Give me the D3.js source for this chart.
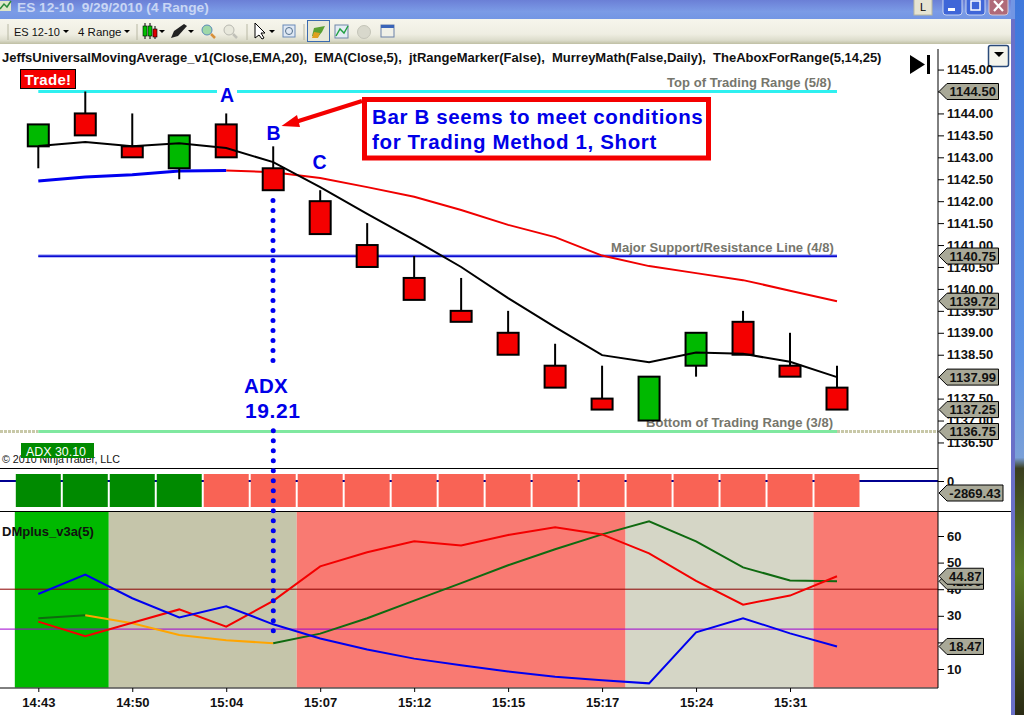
<!DOCTYPE html>
<html>
<head>
<meta charset="utf-8">
<script src="https://cdn.jsdelivr.net/npm/d3@7"></script>
<style>
 html, body { margin: 0; padding: 0; background: #fff; overflow: hidden; }
 svg { display: block; font-family: "Liberation Sans", Arial, sans-serif; }
 .tick text { font-weight: bold; font-size: 13px; fill: #111; }
 .tick line { stroke: #000; }
</style>
</head>
<body>
<div id="chart"></div>
<script>
// candles
var opens  = [1143.25, 1144, 1143.25, 1142.75, 1143.75, 1142.75, 1142, 1141, 1140.25, 1139.5, 1139, 1138.25, 1137.5, 1137, 1138.25, 1139.25, 1138.25, 1137.75];
var closes = [1143.75, 1143.5, 1143, 1143.5, 1143, 1142.25, 1141.25, 1140.5, 1139.75, 1139.25, 1138.5, 1137.75, 1137.25, 1138, 1139, 1138.5, 1138, 1137.25];
var highs  = [1143.75, 1144.5, 1144, 1143.5, 1144, 1143.25, 1142.25, 1141.5, 1140.75, 1140.25, 1139.5, 1138.75, 1138.25, 1138, 1139, 1139.5, 1139, 1138.25];
var lows   = [1142.75, 1143.5, 1143, 1142.5, 1143, 1142.25, 1141.25, 1140.5, 1139.75, 1139.25, 1138.5, 1137.75, 1137.25, 1137, 1138, 1138.5, 1138, 1137.25];

// moving averages
var emaFast = [1143.26, 1143.35, 1143.25, 1143.32, 1143.21, 1142.89, 1142.32, 1141.71, 1141.12, 1140.5, 1139.79, 1139.13, 1138.49, 1138.33, 1138.55, 1138.52, 1138.34, 1137.99];
var universalMa = [1142.46, 1142.55, 1142.6, 1142.69, 1142.7, 1142.66, 1142.53, 1142.32, 1142.1, 1141.8, 1141.46, 1141.18, 1140.76, 1140.52, 1140.36, 1140.2, 1139.96, 1139.72];

// DMplus panel
var diMinus = [27.8, 22.3, 27.4, 32.4, 25.9, 35.6, 48.6, 53.9, 58, 56.4, 60.4, 63.3, 60.6, 53.5, 43.1, 34.2, 37.6, 44.87];
var diPlus  = [38.2, 45.5, 36.6, 29.4, 33.6, 26.8, 21.5, 17.3, 13.9, 11.4, 9.1, 7.1, 5.8, 4.6, 23.8, 29.1, 23.4, 18.47];
var adxLine = [29.1, 30.2, 27.2, 22.8, 20.8, 19.7, 23.3, 29.1, 35.7, 42.3, 49, 55, 60.6, 65.5, 58, 48.2, 43.3, 42.96];

// shading of the DMplus panel, in bar numbers
var bandFrom = [-0.5, 1.5, 5.5, 12.5, 16.5];
var bandTo = [1.5, 5.5, 12.5, 16.5, 20];
var bandColors = ["#00b900", "#c5c5aa", "#f97a72", "#d5d6c6", "#f97a72"];

// middle panel blocks
var blockColors = ["#008a00", "#008a00", "#008a00", "#008a00", "#f96355", "#f96355", "#f96355", "#f96355", "#f96355", "#f96355", "#f96355", "#f96355", "#f96355", "#f96355", "#f96355", "#f96355", "#f96355", "#f96355"];

// axes
var timeLabels = ["14:43", "14:50", "15:04", "15:07", "15:12", "15:15", "15:17", "15:24", "15:31"];
var timeBars = [0, 2, 4, 6, 8, 10, 12, 14, 16];
var priceTicks = [1145, 1144.5, 1144, 1143.5, 1143, 1142.5, 1142, 1141.5, 1141, 1140.5, 1140, 1139.5, 1139, 1138.5, 1138, 1137.5, 1137, 1136.5];
var dmTicks = [10, 20, 30, 40, 50, 60];
var priceTags = [1144.5, 1140.75, 1139.72, 1137.99, 1137.25, 1136.75];
var dmTags = [42.96, 18.47, 44.87];

var width = 1024, height = 715;
var axisX = 938;

var svg = d3.select("#chart").append("svg").attr("width", width).attr("height", height);

var x = d3.scaleLinear().domain([0, 17]).range([38.3, 837]);
var yPrice = d3.scaleLinear().domain([1144.5, 1136.75]).range([91.5, 431.5]);
var yDm = d3.scaleLinear().domain([10, 60]).range([669, 536]);
var yMid = d3.scaleLinear().domain([0, -2869.43]).range([481, 493]);

var bars = d3.range(opens.length);

// Window chrome.
var defs = svg.append("defs");
var g1 = defs.append("linearGradient").attr("id", "titleGrad").attr("x1", 0).attr("x2", 0).attr("y1", 0).attr("y2", 1);
g1.append("stop").attr("offset", "0").attr("stop-color", "#6b7fd6");
g1.append("stop").attr("offset", "0.6").attr("stop-color", "#7b9be6");
g1.append("stop").attr("offset", "1").attr("stop-color", "#7396e4");
var g2 = defs.append("linearGradient").attr("id", "toolGrad").attr("x1", 0).attr("x2", 0).attr("y1", 0).attr("y2", 1);
g2.append("stop").attr("offset", "0").attr("stop-color", "#f6f5ec");
g2.append("stop").attr("offset", "0.6").attr("stop-color", "#efeee2");
g2.append("stop").attr("offset", "0.85").attr("stop-color", "#dcdccb");
g2.append("stop").attr("offset", "1").attr("stop-color", "#bfbfa4");
var g3 = defs.append("linearGradient").attr("id", "deskGrad").attr("x1", 0).attr("x2", 0).attr("y1", 0).attr("y2", 1);
g3.append("stop").attr("offset", "0").attr("stop-color", "#3f78dc");
g3.append("stop").attr("offset", "0.5").attr("stop-color", "#5d93e4");
g3.append("stop").attr("offset", "0.64").attr("stop-color", "#7aa0d8");
g3.append("stop").attr("offset", "0.655").attr("stop-color", "#3b3f20");
g3.append("stop").attr("offset", "0.8").attr("stop-color", "#5b7d25");
g3.append("stop").attr("offset", "0.87").attr("stop-color", "#4a5a20");
g3.append("stop").attr("offset", "1").attr("stop-color", "#2a2a14");

svg.append("rect").attr("x", 1015).attr("y", 0).attr("width", 9).attr("height", height).attr("fill", "url(#deskGrad)");
svg.append("rect").attr("x", 1011).attr("y", 0).attr("width", 4).attr("height", height).attr("fill", "#6a70c8");
svg.append("rect").attr("width", 1011).attr("height", 19).attr("fill", "url(#titleGrad)");
svg.append("rect").attr("x", 1011).attr("width", 4).attr("height", 19).attr("fill", "#7396e4");
svg.append("rect").attr("y", 19).attr("width", 1011).attr("height", 25).attr("fill", "url(#toolGrad)");

svg.append("text").attr("x", 17).attr("y", 12).attr("font-size", 13.7).attr("font-weight", "bold")
 .attr("fill", "#c9d6f4").attr("xml:space", "preserve").text("ES 12-10  9/29/2010 (4 Range)");

// Little chart icon in the title bar.
svg.append("rect").attr("x", 0).attr("y", 1).attr("width", 11).attr("height", 10).attr("fill", "#dfe6c8");
svg.append("path").attr("d", "M0,9L4,4L7,7L11,1").attr("fill", "none").attr("stroke", "#2a8a3a").attr("stroke-width", 1.5);

// Window buttons.
svg.append("rect").attr("x", 914).attr("y", -2).attr("width", 18).attr("height", 17).attr("fill", "#e6e4d2").attr("stroke", "#b8b8a0");
svg.append("text").attr("x", 923).attr("y", 11).attr("text-anchor", "middle").attr("font-size", 11).text("L");
svg.append("rect").attr("x", 943).attr("y", -3).attr("width", 19).attr("height", 18).attr("rx", 3).attr("fill", "#3f66d8").attr("stroke", "#c8d4f0");
svg.append("rect").attr("x", 948).attr("y", 8).attr("width", 7).attr("height", 3).attr("fill", "#fff");
svg.append("rect").attr("x", 966).attr("y", -3).attr("width", 19).attr("height", 18).attr("rx", 3).attr("fill", "#3f66d8").attr("stroke", "#c8d4f0");
svg.append("rect").attr("x", 971).attr("y", 1).attr("width", 9).attr("height", 9).attr("fill", "none").attr("stroke", "#fff").attr("stroke-width", 1.5);
svg.append("rect").attr("x", 989).attr("y", -3).attr("width", 19).attr("height", 18).attr("rx", 3).attr("fill", "#b06a78").attr("stroke", "#d8c8d0");
svg.append("path").attr("d", "M994,1L1003,11M1003,1L994,11").attr("stroke", "#fff").attr("stroke-width", 2.2);

// Toolbar.
function toolText(tx, label, size) {
 svg.append("text").attr("x", tx).attr("y", 36).attr("font-size", size).attr("fill", "#111").text(label);
}
function dropArrow(ax) {
 svg.append("path").attr("d", "M" + ax + ",30h6l-3,3z").attr("fill", "#000");
}
function toolSep(sx) {
 svg.append("line").attr("x1", sx).attr("x2", sx).attr("y1", 24).attr("y2", 40).attr("stroke", "#b8b8a4");
}
toolSep(8); toolSep(137); toolSep(247); toolSep(304);
toolText(14, "ES 12-10", 11);
dropArrow(63);
toolText(78, "4 Range", 11.5);
dropArrow(124);
[145, 150].forEach(function(cx) {
 svg.append("line").attr("x1", cx).attr("x2", cx).attr("y1", 23).attr("y2", 39).attr("stroke", "#000");
 svg.append("rect").attr("x", cx - 2).attr("y", 26).attr("width", 4).attr("height", 10).attr("fill", "#00c000").attr("stroke", "#000").attr("stroke-width", 0.6);
});
svg.append("line").attr("x1", 155).attr("x2", 155).attr("y1", 26).attr("y2", 39).attr("stroke", "#000");
svg.append("rect").attr("x", 153).attr("y", 29).attr("width", 4).attr("height", 8).attr("fill", "#e00000").attr("stroke", "#000").attr("stroke-width", 0.6);
dropArrow(159);
svg.append("path").attr("d", "M171,38L174,31L184,24L187,26L178,36Z").attr("fill", "#222");
dropArrow(188);
svg.append("circle").attr("cx", 207).attr("cy", 30).attr("r", 5).attr("fill", "#9fd8a8").attr("stroke", "#5a8ab8");
svg.append("line").attr("x1", 211).attr("x2", 215).attr("y1", 34).attr("y2", 38).attr("stroke", "#d8903a").attr("stroke-width", 2.5);
svg.append("circle").attr("cx", 229).attr("cy", 30).attr("r", 5).attr("fill", "#e8e8dc").attr("stroke", "#b8b8b0");
svg.append("line").attr("x1", 233).attr("x2", 237).attr("y1", 34).attr("y2", 38).attr("stroke", "#c0c0b8").attr("stroke-width", 2.5);
svg.append("path").attr("d", "M255,23V38L259,35L262,39L264,38L261,33L265,33Z").attr("fill", "#fff").attr("stroke", "#000");
dropArrow(269);
svg.append("rect").attr("x", 283).attr("y", 25).attr("width", 12).attr("height", 12).attr("fill", "#dfe8f4").attr("stroke", "#6a8ab8");
svg.append("circle").attr("cx", 289).attr("cy", 31).attr("r", 3.5).attr("fill", "none").attr("stroke", "#54708c");
svg.append("rect").attr("x", 307.5).attr("y", 20.5).attr("width", 22).attr("height", 21).attr("fill", "#e8e8d8").attr("stroke", "#3a6ab0");
svg.append("path").attr("d", "M312,36L314,28L325,26L322,32L318,37Z").attr("fill", "#5aa032");
svg.append("path").attr("d", "M312,38L314,32L320,33L318,38Z").attr("fill", "#e0a020");
svg.append("rect").attr("x", 335).attr("y", 25).attr("width", 13).attr("height", 13).attr("fill", "#e4ecf4").attr("stroke", "#7088a8");
svg.append("path").attr("d", "M336,36L340,29L344,33L348,26").attr("fill", "none").attr("stroke", "#20a040").attr("stroke-width", 1.4);
svg.append("circle").attr("cx", 364).attr("cy", 32).attr("r", 6.5).attr("fill", "#d8d8cc").attr("stroke", "#c4c4b8");
svg.append("rect").attr("x", 381).attr("y", 25).attr("width", 13).attr("height", 12).attr("fill", "#f0f0e8").attr("stroke", "#6a80a8");
svg.append("rect").attr("x", 381).attr("y", 25).attr("width", 13).attr("height", 3).attr("fill", "#3a64b8");

// Chart overlay text at the top.
svg.append("text").attr("x", 2).attr("y", 62).attr("font-size", 13).attr("font-weight", "bold").attr("fill", "#111").attr("xml:space", "preserve")
 .text("JeffsUniversalMovingAverage_v1(Close,EMA,20),  EMA(Close,5),  jtRangeMarker(False),  MurreyMath(False,Daily),  TheAboxForRange(5,14,25)");

svg.append("path").attr("d", "M910,55V74L925,64.5Z").attr("fill", "#000");
svg.append("rect").attr("x", 927).attr("y", 55).attr("width", 3).attr("height", 19).attr("fill", "#000");
svg.append("rect").attr("x", 988.5).attr("y", 45.5).attr("width", 20).attr("height", 21).attr("rx", 2).attr("fill", "#f4f4ec").attr("stroke", "#2a4a7a").attr("stroke-width", 1.5);
svg.append("path").attr("d", "M994,52h10l-5,5z").attr("fill", "#000");

// DMplus background shading.
svg.selectAll(".band").data(bandColors).enter().append("rect").attr("class", "band")
 .attr("x", function(d, i) { return x(bandFrom[i]); })
 .attr("y", 512)
 .attr("width", function(d, i) { return Math.min(x(bandTo[i]), axisX) - x(bandFrom[i]); })
 .attr("height", 175.5)
 .attr("fill", function(d) { return d; });

// Murrey levels.
svg.append("rect").attr("x", x(0)).attr("y", yPrice(1144.5) - 1.5).attr("width", x(17) - x(0)).attr("height", 3).attr("fill", "#2ff0f0");
svg.append("rect").attr("x", x(0)).attr("y", yPrice(1140.75) - 1.5).attr("width", x(17) - x(0)).attr("height", 3).attr("fill", "#7a80f0");
svg.append("rect").attr("x", x(0)).attr("y", yPrice(1140.75) - 0.5).attr("width", x(17) - x(0)).attr("height", 1.4).attr("fill", "#0000d0");
svg.append("line").attr("x1", 0).attr("x2", x(0)).attr("y1", yPrice(1136.75)).attr("y2", yPrice(1136.75)).attr("stroke", "#c8c8a8").attr("stroke-width", 3).attr("stroke-dasharray", "3 1");
svg.append("line").attr("x1", x(17)).attr("x2", axisX).attr("y1", yPrice(1136.75)).attr("y2", yPrice(1136.75)).attr("stroke", "#c8c8a8").attr("stroke-width", 3).attr("stroke-dasharray", "3 1");
svg.append("rect").attr("x", x(0)).attr("y", yPrice(1136.75) - 1.5).attr("width", x(17) - x(0)).attr("height", 3).attr("fill", "#80e8a0");

function levelText(tx, ty, label) {
 svg.append("text").attr("x", tx).attr("y", ty).attr("font-size", 13).attr("font-weight", "bold")
  .attr("letter-spacing", 0.05).attr("fill", "#76766c").text(label);
}
levelText(667, 87, "Top of Trading Range (5/8)");
levelText(611, 252, "Major Support/Resistance Line (4/8)");
levelText(646, 427, "Bottom of Trading Range (3/8)");

// Moving averages behind the candles.
var priceLine = d3.line().x(function(d) { return x(d); });

svg.append("path").datum(bars.slice(0, 5))
 .attr("d", priceLine.y(function(d) { return yPrice(universalMa[d]); }))
 .attr("fill", "none").attr("stroke", "#0000f0").attr("stroke-width", 3);
svg.append("path").datum(bars.slice(4))
 .attr("d", priceLine.y(function(d) { return yPrice(universalMa[d]); }))
 .attr("fill", "none").attr("stroke", "#f00000").attr("stroke-width", 2);

// Candles.
var candles = svg.selectAll(".candle").data(bars).enter().append("g").attr("class", "candle");
candles.append("line")
 .attr("x1", function(d) { return x(d); })
 .attr("x2", function(d) { return x(d); })
 .attr("y1", function(d) { return yPrice(highs[d]); })
 .attr("y2", function(d) { return yPrice(lows[d]); })
 .attr("stroke", "#000").attr("stroke-width", 2);
candles.append("rect")
 .attr("x", function(d) { return x(d) - 10.5; })
 .attr("y", function(d) { return yPrice(Math.max(opens[d], closes[d])); })
 .attr("width", 21)
 .attr("height", function(d) { return Math.abs(yPrice(opens[d]) - yPrice(closes[d])); })
 .attr("fill", function(d) { return closes[d] > opens[d] ? "#00b900" : "#f40000"; })
 .attr("stroke", "#000").attr("stroke-width", 2);

svg.append("path").datum(bars)
 .attr("d", priceLine.y(function(d) { return yPrice(emaFast[d]); }))
 .attr("fill", "none").attr("stroke", "#000").attr("stroke-width", 2);

// Panel separators and the zero line of the middle panel.
svg.append("line").attr("x1", 0).attr("x2", axisX).attr("y1", 468.5).attr("y2", 468.5).attr("stroke", "#000");
svg.append("line").attr("x1", 0).attr("x2", 1011).attr("y1", 511.5).attr("y2", 511.5).attr("stroke", "#000");
svg.append("line").attr("x1", 0).attr("x2", axisX).attr("y1", yMid(0)).attr("y2", yMid(0)).attr("stroke", "#000090").attr("stroke-width", 2);

svg.selectAll(".block").data(blockColors).enter().append("rect").attr("class", "block")
 .attr("x", function(d, i) { return x(i) - 22.5; })
 .attr("y", 474)
 .attr("width", 45)
 .attr("height", 33)
 .attr("fill", function(d) { return d; });

// DMplus reference lines.
svg.append("line").attr("x1", 0).attr("x2", axisX).attr("y1", yDm(40)).attr("y2", yDm(40)).attr("stroke", "#8b0000");
svg.append("line").attr("x1", 0).attr("x2", axisX).attr("y1", yDm(25)).attr("y2", yDm(25)).attr("stroke", "#a000d0");

// DMplus lines.
var dmLine = d3.line().x(function(d) { return x(d); });

function drawDm(values, from, to, color) {
 svg.append("path").datum(bars.slice(from, to + 1))
  .attr("d", dmLine.y(function(d) { return yDm(values[d]); }))
  .attr("fill", "none").attr("stroke", color).attr("stroke-width", 2);
}
drawDm(adxLine, 0, 1, "#0f6a10");
drawDm(adxLine, 1, 5, "#ffa500");
drawDm(adxLine, 5, 17, "#0f6a10");
drawDm(diMinus, 0, 17, "#f40000");
drawDm(diPlus, 0, 17, "#0000f0");

svg.append("text").attr("x", 2).attr("y", 536).attr("font-size", 13).attr("font-weight", "bold").attr("fill", "#111").text("DMplus_v3a(5)");

// Axes.
svg.append("line").attr("x1", axisX).attr("x2", axisX).attr("y1", 49).attr("y2", 688).attr("stroke", "#000").attr("stroke-width", 1);
svg.append("line").attr("x1", 0).attr("x2", axisX).attr("y1", 688).attr("y2", 688).attr("stroke", "#000").attr("stroke-width", 1);

var priceAxis = d3.axisRight(yPrice).tickValues(priceTicks).tickSize(6).tickPadding(3).tickFormat(d3.format(".2f"));
svg.append("g").attr("transform", "translate(" + axisX + ",0)").call(priceAxis).call(function(g) { g.select(".domain").remove(); });

var midAxis = d3.axisRight(yMid).tickValues([0]).tickSize(6).tickPadding(3);
svg.append("g").attr("transform", "translate(" + axisX + ",0)").call(midAxis).call(function(g) { g.select(".domain").remove(); });

var dmAxis = d3.axisRight(yDm).tickValues(dmTicks).tickSize(6).tickPadding(3);
svg.append("g").attr("transform", "translate(" + axisX + ",0)").call(dmAxis).call(function(g) { g.select(".domain").remove(); });

var timeAxis = d3.axisBottom(x).tickValues(timeBars).tickSize(4).tickPadding(6)
 .tickFormat(function(d, i) { return timeLabels[i]; });
svg.append("g").attr("transform", "translate(0,688)").call(timeAxis).call(function(g) { g.select(".domain").remove(); });

// Value tags on the axis.
function drawTag(ty, label, tagWidth) {
 var g = svg.append("g").attr("transform", "translate(" + axisX + "," + ty + ")");
 g.append("path").attr("d", "M1,0L9,-8H" + tagWidth + "V8H9Z").attr("fill", "#a9a998").attr("stroke", "#000");
 g.append("text").attr("x", (tagWidth + 9) / 2).attr("y", 4.5).attr("text-anchor", "middle")
  .attr("font-size", 13).attr("font-weight", "bold").attr("fill", "#111").text(label);
}
priceTags.forEach(function(v) { drawTag(yPrice(v), d3.format(".2f")(v), 60.5); });
drawTag(yMid(-2869.43), "-2869.43", 65);
dmTags.forEach(function(v) { drawTag(yDm(v), d3.format(".2f")(v), 45.5); });

// Annotations.
svg.append("rect").attr("x", 20.5).attr("y", 69.5).attr("width", 55).attr("height", 19).attr("fill", "#f40000").attr("stroke", "#000");
svg.append("text").attr("x", 48).attr("y", 84.5).attr("text-anchor", "middle").attr("font-size", 15).attr("font-weight", "bold").attr("letter-spacing", 0.3).attr("fill", "#fff").text("Trade!");

svg.append("rect").attr("x", 217).attr("y", 88).attr("width", 20).attr("height", 6).attr("fill", "#fff");

function blueText(tx, ty, label, size, spacing, anchor) {
 svg.append("text").attr("x", tx).attr("y", ty).attr("font-size", size).attr("font-weight", "bold")
  .attr("letter-spacing", spacing).attr("text-anchor", anchor || "start").attr("fill", "#0000e8").text(label);
}
blueText(227, 102, "A", 19.5, 0, "middle");
blueText(273.5, 140, "B", 19.5, 0, "middle");
blueText(319.5, 169, "C", 19.5, 0, "middle");
blueText(244, 393, "ADX", 20.5, 0.2);
blueText(245, 418, "19.21", 21, 0.6);

svg.append("rect").attr("x", 364.5).attr("y", 99.5).attr("width", 344).attr("height", 58.5).attr("fill", "#fff").attr("stroke", "#f40000").attr("stroke-width", 5);
blueText(372, 124, "Bar B seems to meet conditions", 20.5, 0.64);
blueText(372, 149, "for Trading Method 1, Short", 20.5, 0.64);

svg.append("line").attr("x1", 362).attr("x2", 297).attr("y1", 101).attr("y2", 121.5).attr("stroke", "#f40000").attr("stroke-width", 4);
svg.append("path").attr("d", "M281.5,126L297,115L300,127Z").attr("fill", "#f40000");

// Dotted marker for bar B, the last dot above the ADX text is cut in half.
svg.append("line").attr("x1", 273).attr("x2", 273).attr("y1", 200.5).attr("y2", 370.5)
 .attr("stroke", "#0000f0").attr("stroke-width", 5).attr("stroke-linecap", "round").attr("stroke-dasharray", "0 10");
svg.append("rect").attr("x", 268).attr("y", 370.5).attr("width", 10).attr("height", 4).attr("fill", "#fff");
svg.append("line").attr("x1", 273.3).attr("x2", 273.3).attr("y1", 430.7).attr("y2", 632)
 .attr("stroke", "#0000f0").attr("stroke-width", 5).attr("stroke-linecap", "round").attr("stroke-dasharray", "0 10");

// Footer of the price panel.
svg.append("text").attr("x", 2).attr("y", 463).attr("font-size", 10.7).attr("fill", "#111").text("\u00a9 2010 NinjaTrader, LLC");
svg.append("rect").attr("x", 21).attr("y", 443).attr("width", 73).attr("height", 15).attr("fill", "#008a00");
svg.append("text").attr("x", 26).attr("y", 456).attr("font-size", 12.4).attr("fill", "#fff").text("ADX 30.10");
</script>
</body>
</html>
